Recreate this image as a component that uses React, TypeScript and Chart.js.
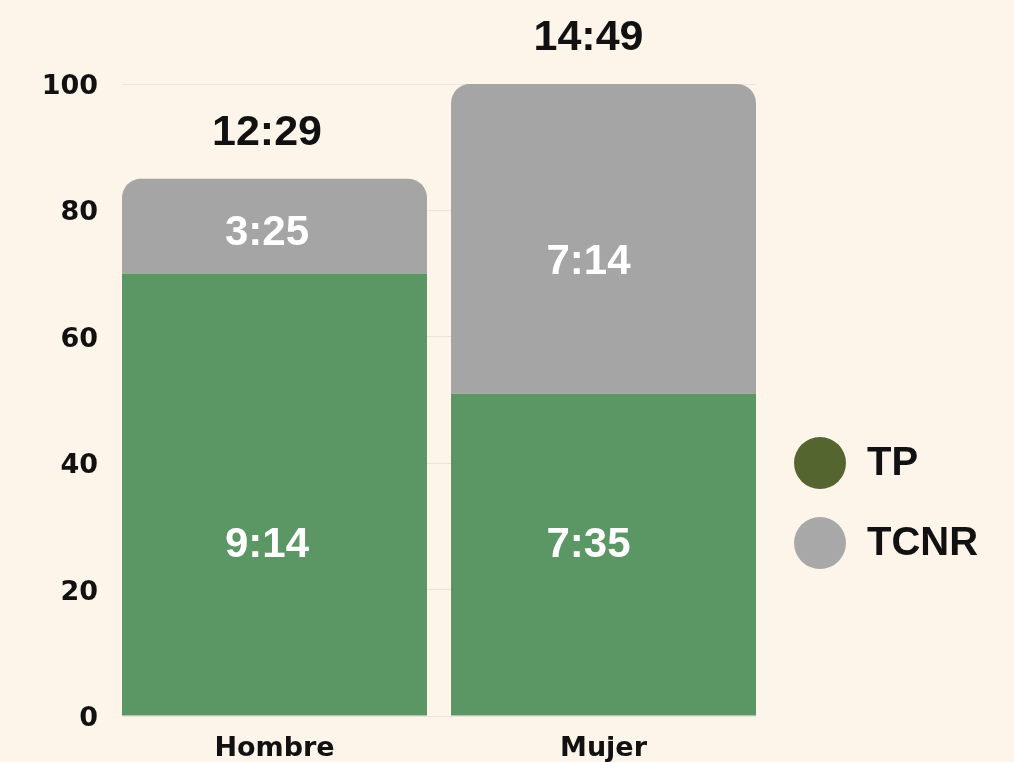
import React, { useEffect, useRef } from 'react';
import { Chart, registerables } from 'chart.js';

Chart.register(...registerables);

// ---- data ----
const categories = ['Hombre', 'Mujer'];
const seriesNames = ['TP', 'TCNR'];
const tpValues = [70, 51];
const tcnrValues = [15, 49];
const tpLabels = ['9:14', '7:35'];
const tcnrLabels = ['3:25', '7:14'];
const totalLabels = ['12:29', '14:49'];
const yTickValues = [0, 20, 40, 60, 80, 100];

// ---- styles ----
const BG = '#fdf4ea';
const BAR_COLORS = ['#5b9764', '#a5a5a5'];
const LEGEND_COLORS = ['#556530', '#a8a8a8'];
const TEXT = '#111111';
const GRID = '#ece4da';
const TICK_FONT = 'DejaVu Sans';
const LABEL_FONT = '"Liberation Sans", Arial, sans-serif';

const segmentLabelsPlugin = {
  id: 'segmentLabels',
  afterDatasetsDraw(chart: any) {
    const { ctx } = chart;
    const ys = chart.scales.y;
    const m0 = chart.getDatasetMeta(0);
    ctx.save();
    ctx.textAlign = 'center';
    ctx.textBaseline = 'middle';
    categories.forEach((_, i) => {
      const x = m0.data[i].x - 7.5 * (i + 1);
      ctx.fillStyle = '#ffffff';
      ctx.font = `bold 42px ${LABEL_FONT}`;
      ctx.fillText(tpLabels[i], x, ys.getPixelForValue(27.0));
      ctx.fillText(tcnrLabels[i], x, ys.getPixelForValue(tpValues[i] + 0.425 * tcnrValues[i]));
      ctx.fillStyle = TEXT;
      ctx.font = `bold 43px ${LABEL_FONT}`;
      ctx.fillText(totalLabels[i], x, ys.getPixelForValue(tpValues[i] + tcnrValues[i]) - 46);
    });
    ctx.restore();
  },
};

const sideLegendPlugin = {
  id: 'sideLegend',
  afterDraw(chart: any) {
    const { ctx, chartArea } = chart;
    const cx = chartArea.right + 64;
    const y0 = chartArea.bottom - 253;
    ctx.save();
    ctx.textAlign = 'left';
    ctx.textBaseline = 'middle';
    ctx.font = `bold 40px ${LABEL_FONT}`;
    seriesNames.forEach((name, i) => {
      const cy = y0 + i * 80;
      ctx.beginPath();
      ctx.fillStyle = LEGEND_COLORS[i];
      ctx.arc(cx, cy, 26, 0, Math.PI * 2);
      ctx.fill();
      ctx.fillStyle = TEXT;
      ctx.fillText(name, cx + 47, cy + 1);
    });
    ctx.restore();
  },
};

export default function App() {
  const canvasRef = useRef<HTMLCanvasElement | null>(null);

  useEffect(() => {
    document.body.style.margin = '0';
    document.body.style.background = BG;
    const canvas = canvasRef.current;
    if (!canvas) return;
    const chart = new Chart(canvas, {
      type: 'bar',
      data: {
        datasets: [
          {
            label: seriesNames[0],
            data: tpValues.map((v, i) => ({ x: i, y: v })),
            backgroundColor: BAR_COLORS[0],
            borderWidth: 0,
            borderRadius: 0,
            categoryPercentage: 1,
            barPercentage: 0.927,
          },
          {
            label: seriesNames[1],
            data: tcnrValues.map((v, i) => ({ x: i, y: v })),
            backgroundColor: BAR_COLORS[1],
            borderWidth: 0,
            borderRadius: { topLeft: 19, topRight: 19, bottomLeft: 0, bottomRight: 0 },
            borderSkipped: false,
            categoryPercentage: 1,
            barPercentage: 0.927,
          },
        ],
      },
      options: {
        responsive: false,
        animation: false,
        layout: { padding: { top: 84, right: 258, bottom: 0, left: 0 } },
        plugins: {
          legend: { display: false },
          tooltip: { enabled: false },
          title: { display: false },
        },
        scales: {
          x: {
            type: 'linear',
            stacked: true,
            offset: false,
            min: -0.4635,
            max: 1.4635,
            afterBuildTicks: (scale: any) => {
              scale.ticks = categories.map((_, i) => ({ value: i }));
            },
            grid: { display: false, drawTicks: false },
            border: { display: false },
            ticks: {
              color: TEXT,
              padding: 17,
              font: { family: TICK_FONT, size: 27, weight: 'bold' },
              callback: (v: any) => categories[Number(v)] ?? '',
            },
            afterFit: (scale: any) => {
              scale.height = 46;
            },
          },
          y: {
            stacked: true,
            min: 0,
            max: 100,
            afterBuildTicks: (scale: any) => {
              scale.ticks = yTickValues.map((v) => ({ value: v }));
            },
            grid: { color: GRID, lineWidth: 1, drawTicks: false },
            border: { display: false },
            ticks: {
              color: TEXT,
              padding: 24,
              labelOffset: 3,
              font: { family: TICK_FONT, size: 27, weight: 'bold' },
            },
            afterFit: (scale: any) => {
              scale.width = 122;
            },
          },
        },
      },
      plugins: [segmentLabelsPlugin, sideLegendPlugin],
    });
    return () => chart.destroy();
  }, []);

  return (
    <div style={{ position: 'fixed', left: 0, top: 0, width: 1014, height: 762, background: BG }}>
      <canvas ref={canvasRef} width={1014} height={762} />
    </div>
  );
}
